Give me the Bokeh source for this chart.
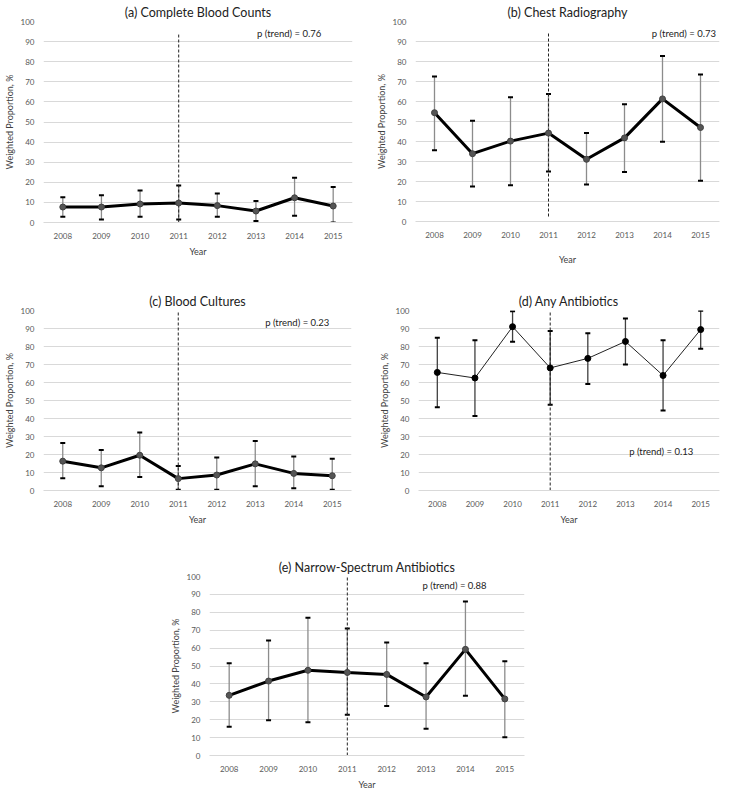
from bokeh.plotting import figure
from bokeh.models import (ColumnDataSource, FactorRange, Range1d, FixedTicker,
                          Whisker, TeeHead, Label, Spacer)
from bokeh.layouts import row, column
from bokeh.embed import file_html
from bokeh.resources import INLINE

years = ["2008", "2009", "2010", "2011", "2012", "2013", "2014", "2015"]
y_ticks = [0, 10, 20, 30, 40, 50, 60, 70, 80, 90, 100]

# (a) Complete Blood Counts
cbc_val = [7.7, 7.7, 9.2, 9.7, 8.4, 5.7, 12.3, 8.2]
cbc_lo = [2.8, 1.5, 2.8, 1.5, 2.8, 0.8, 3.3, 0.0]
cbc_hi = [12.6, 13.6, 15.9, 18.4, 14.4, 10.7, 22.3, 17.6]

# (b) Chest Radiography
cxr_val = [54.4, 33.9, 40.2, 44.2, 31.1, 41.8, 61.3, 47.0]
cxr_lo = [35.6, 17.5, 18.1, 25.0, 18.5, 24.7, 39.9, 20.4]
cxr_hi = [72.5, 50.4, 62.1, 63.8, 44.2, 58.6, 82.7, 73.5]

# (c) Blood Cultures
bc_val = [16.3, 12.6, 19.6, 6.6, 8.6, 14.8, 9.5, 8.2]
bc_lo = [6.8, 2.4, 7.5, 0.4, 0.4, 2.4, 1.3, 0.4]
bc_hi = [26.4, 22.5, 32.2, 13.6, 18.3, 27.5, 18.9, 17.6]

# (d) Any Antibiotics
abx_val = [65.6, 62.5, 91.0, 68.1, 73.4, 82.8, 63.9, 89.4]
abx_lo = [46.2, 41.4, 82.6, 47.6, 59.2, 70.0, 44.5, 78.8]
abx_hi = [84.8, 83.5, 99.6, 88.6, 87.4, 95.6, 83.5, 99.8]

# (e) Narrow-Spectrum Antibiotics
nsa_val = [33.6, 41.6, 47.6, 46.4, 45.3, 32.7, 59.3, 31.6]
nsa_lo = [16.1, 19.7, 18.6, 22.8, 27.7, 15.0, 33.4, 10.2]
nsa_hi = [51.5, 64.2, 77.0, 71.0, 63.1, 51.5, 86.1, 52.6]

titles = ["(a) Complete Blood Counts", "(b) Chest Radiography", "(c) Blood Cultures",
          "(d) Any Antibiotics", "(e) Narrow-Spectrum Antibiotics"]
p_texts = ["p (trend) = 0.76", "p (trend) = 0.73", "p (trend) = 0.23",
           "p (trend) = 0.13", "p (trend) = 0.88"]
divider_year = "2011"
divider_top = [93.5, 94, 100, 100, 100]
divider_bottom = [0, 2.5, 0, 0, 0]

FONT = "Lato"
GRAY_TXT = "#595959"


def panel(idx, vals, lo, hi, fw, fh, br, bb, px, py, thin=False, year_standoff=4):
    p = figure(x_range=FactorRange(*years, range_padding=0), y_range=Range1d(0, 100),
               frame_width=fw, frame_height=fh, min_border_left=36, min_border_right=br,
               min_border_top=5, min_border_bottom=bb,
               output_backend="svg", toolbar_location=None, title=titles[idx])
    p.outline_line_color = None
    p.background_fill_color = "white"
    p.border_fill_color = "white"
    p.title.align = "center"
    p.title.text_font = FONT
    p.title.text_font_style = "normal"
    p.title.text_font_size = "12.5px"
    p.title.text_color = "#222222"
    p.title.standoff = 4
    p.title.offset = 0

    p.xgrid.grid_line_color = None
    p.ygrid.grid_line_color = "#d9d9d9"
    p.ygrid.grid_line_width = 1
    p.yaxis.ticker = FixedTicker(ticks=y_ticks)

    for ax in (p.xaxis[0], p.yaxis[0]):
        ax.major_tick_line_color = None
        ax.minor_tick_line_color = None
        ax.major_label_text_font = FONT
        ax.major_label_text_font_size = "8px"
        ax.major_label_text_color = GRAY_TXT
        ax.axis_label_text_font = FONT
        ax.axis_label_text_font_size = "9px"
        ax.axis_label_text_font_style = "normal"
        ax.axis_label_text_color = "#404040"
        ax.major_label_standoff = 4
    p.yaxis.major_label_standoff = 3
    p.yaxis.axis_line_color = None
    p.xaxis.axis_line_color = "#d9d9d9"
    p.yaxis.axis_label = "Weighted Proportion, %"
    p.yaxis.axis_label_standoff = 3
    p.xaxis.axis_label = "Year"
    p.xaxis.axis_label_standoff = year_standoff

    p.segment(x0=[divider_year], y0=[divider_bottom[idx]], x1=[divider_year], y1=[divider_top[idx]],
              line_color="#222222", line_width=1, line_dash="3 2")

    src = ColumnDataSource(dict(x=years, y=vals, lo=lo, hi=hi))
    stem = "#404040" if thin else "#8c8c8c"
    w = Whisker(source=src, base="x", upper="hi", lower="lo", dimension="height",
                line_color=stem, line_width=1.3,
                upper_head=TeeHead(size=5, line_color="black", line_width=2),
                lower_head=TeeHead(size=5, line_color="black", line_width=2))
    p.add_layout(w)

    if thin:
        p.line("x", "y", source=src, line_color="#222222", line_width=1)
        p.scatter("x", "y", source=src, size=6, fill_color="black", line_color="black")
    else:
        p.line("x", "y", source=src, line_color="black", line_width=3)
        p.scatter("x", "y", source=src, size=6, fill_color="#555555", line_color="#404040")

    p.add_layout(Label(x=px, y=py, text=p_texts[idx], text_font=FONT, text_font_size="9.5px",
                       text_color="#222222", text_baseline="middle", text_align="left"))
    return p


pa = panel(0, cbc_val, cbc_lo, cbc_hi, 309, 201, 20, 67, 5.53, 94.1)
pb = panel(1, cxr_val, cxr_lo, cxr_hi, 304, 200, 5, 68, 6.22, 94.0, year_standoff=13)
pc = panel(2, bc_val, bc_lo, bc_hi, 308, 180, 24, 65, 5.76, 93.4)
pd_ = panel(3, abx_val, abx_lo, abx_hi, 301, 180, 5, 65, 5.6, 21.4, thin=True)
pe = panel(4, nsa_val, nsa_lo, nsa_hi, 315, 179, 5, 28, 5.41, 95.0)

layout = column(row(pa, pb, spacing=0), row(pc, pd_, spacing=0),
                row(Spacer(width=166, height=10), pe, spacing=0), spacing=0)

open("out.html", "w").write(file_html(layout, INLINE))
